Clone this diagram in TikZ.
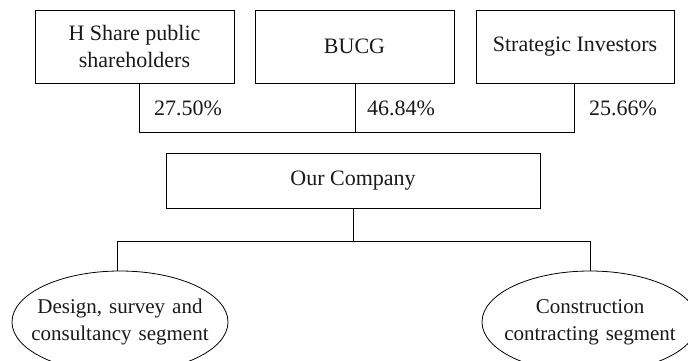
\documentclass[tikz,border=0pt]{standalone}
\usepackage{fontspec}
\setmainfont{Liberation Serif}
\usetikzlibrary{shapes.geometric,calc}
\begin{document}
\begin{tikzpicture}[x=1pt,y=-1pt,
  every node/.style={font=\fontsize{22}{27}\selectfont, text=black!90},
  box/.style={draw, line width=0.8pt, rectangle, minimum height=73pt, align=center, inner sep=0pt},
  seg/.style={draw, line width=0.8pt, ellipse, font=\fontsize{21}{27}\selectfont, text width=190pt, inner xsep=-20pt, inner ysep=0pt, minimum width=216pt, minimum height=102pt, align=center},
  conn/.style={draw, line width=0.8pt},
  pct/.style={inner sep=0pt}]
\path[use as bounding box, clip] (0,0) rectangle (688,361);
\node[box, minimum width=199pt] (b1) at (134.5,46.5) {H Share public\\shareholders};
\node[box, minimum width=199pt] (b2) at (354.5,46.5) {BUCG};
\node[box, minimum width=198pt] (b3) at (575,46.5) {Strategic Investors};
\node[box, minimum width=374pt, minimum height=55pt] (co) at (353,180.5) {Our Company};
\node[seg] (e1) at (120,322) {Design, survey and\\consultancy segment};
\node[seg] (e2) at (590,322) {Construction\\contracting segment};
\coordinate (j1) at (139,132);
\coordinate (j2) at (355,132);
\coordinate (j3) at (574,132);
\coordinate (k1) at (117,241);
\coordinate (k0) at (353,241);
\coordinate (k2) at (590,241);
\draw[conn] (b1.south -| j1) -- (j1) -- (j3) -- (b3.south -| j3);
\draw[conn] (b2.south -| j2) -- (j2);
\draw[conn] (co.south) -- (k0);
\draw[conn] (e1.north -| k1) -- (k1) -- (k2) -- (e2.north);
\node[pct] (p1) at (188,108) {27.50\%};
\node[pct] (p2) at (401,108) {46.84\%};
\node[pct] (p3) at (623,108) {25.66\%};
\end{tikzpicture}
\end{document}
